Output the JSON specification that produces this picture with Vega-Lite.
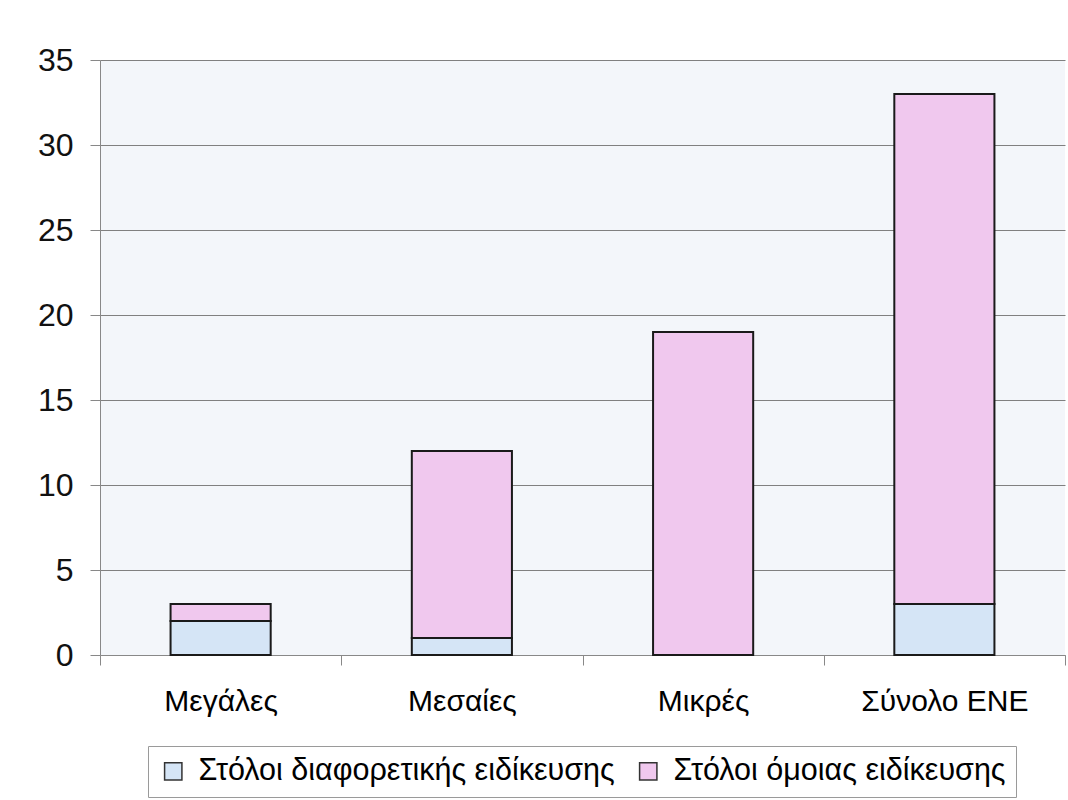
{
  "$schema": "https://vega.github.io/schema/vega-lite/v6.json",
  "autosize": {"type": "none"},
  "padding": {"left": 100, "top": 60, "right": 3, "bottom": 145},
  "width": 965,
  "height": 595,
  "background": "#ffffff",
  "data": {
    "values": [
      {"cat": "Μεγάλες", "series": "Στόλοι διαφορετικής ειδίκευσης", "ord": 1, "value": 2},
      {"cat": "Μεγάλες", "series": "Στόλοι όμοιας ειδίκευσης", "ord": 2, "value": 1},
      {"cat": "Μεσαίες", "series": "Στόλοι διαφορετικής ειδίκευσης", "ord": 1, "value": 1},
      {"cat": "Μεσαίες", "series": "Στόλοι όμοιας ειδίκευσης", "ord": 2, "value": 11},
      {"cat": "Μικρές", "series": "Στόλοι διαφορετικής ειδίκευσης", "ord": 1, "value": 0},
      {"cat": "Μικρές", "series": "Στόλοι όμοιας ειδίκευσης", "ord": 2, "value": 19},
      {"cat": "Σύνολο ΕΝΕ", "series": "Στόλοι διαφορετικής ειδίκευσης", "ord": 1, "value": 3},
      {"cat": "Σύνολο ΕΝΕ", "series": "Στόλοι όμοιας ειδίκευσης", "ord": 2, "value": 30}
    ]
  },
  "mark": {"type": "bar", "width": {"band": 0.415}, "stroke": "#1a1a1a", "strokeWidth": 2},
  "encoding": {
    "x": {
      "field": "cat",
      "type": "nominal",
      "sort": null,
      "title": null,
      "scale": {"paddingInner": 0, "paddingOuter": 0},
      "axis": {
        "labelAngle": 0,
        "labelFont": "Liberation Sans",
        "labelFontSize": 30,
        "labelColor": "#000000",
        "tickBand": "extent",
        "tickSize": 10,
        "tickColor": "#888888",
        "domainColor": "#888888",
        "labelPadding": 21,
        "grid": false
      }
    },
    "y": {
      "field": "value",
      "type": "quantitative",
      "stack": "zero",
      "title": null,
      "scale": {"domain": [0, 35], "nice": false},
      "axis": {
        "values": [0, 5, 10, 15, 20, 25, 30, 35],
        "labelFont": "Liberation Sans",
        "labelFontSize": 32,
        "labelColor": "#111111",
        "tickSize": 10,
        "tickColor": "#888888",
        "domainColor": "#888888",
        "labelPadding": 17,
        "grid": true,
        "gridColor": "#808080",
        "gridWidth": 1
      }
    },
    "color": {
      "field": "series",
      "type": "nominal",
      "title": null,
      "scale": {
        "domain": ["Στόλοι διαφορετικής ειδίκευσης", "Στόλοι όμοιας ειδίκευσης"],
        "range": ["#d5e5f6", "#f0c8ee"]
      },
      "legend": {
        "orient": "none",
        "legendX": 48,
        "legendY": 686,
        "direction": "horizontal",
        "symbolType": "square",
        "symbolSize": 300,
        "symbolStrokeColor": "#333333",
        "symbolStrokeWidth": 1.5,
        "labelFont": "Liberation Sans",
        "labelFontSize": 30.5,
        "labelColor": "#000000",
        "labelLimit": 600,
        "labelOffset": 10,
        "columnPadding": 18,
        "strokeColor": "#9a9a9a",
        "padding": 10,
        "fillColor": "#ffffff"
      }
    },
    "order": {"field": "ord", "type": "quantitative"}
  },
  "config": {
    "view": {"fill": "#f3f6fa", "stroke": null}
  }
}
